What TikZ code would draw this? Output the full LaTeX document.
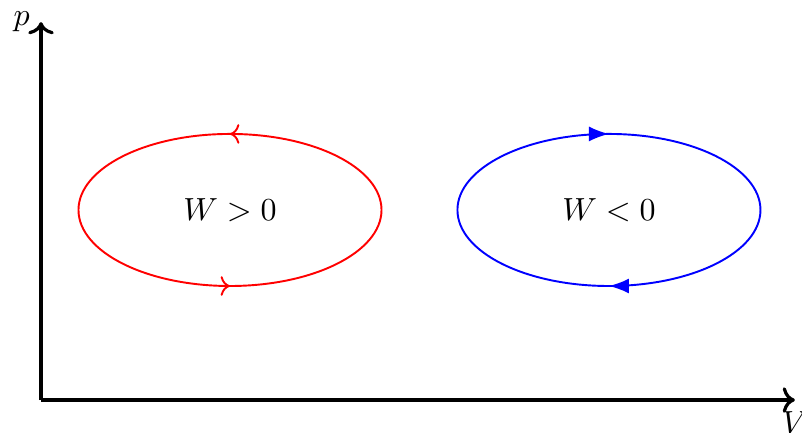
\documentclass[tikz,border=0pt]{standalone}
\usetikzlibrary{arrows.meta,decorations.markings}
\definecolor{cycRed}{RGB}{255,0,0}
\definecolor{cycBlue}{RGB}{0,0,255}
\tikzset{
  axisline/.style={->, line width=1pt},
  cycline/.style={semithick},
  fwdcycle/.style={
    cycline, draw=cycRed,
    postaction={decorate},
    decoration={markings,
      mark=at position 0.25 with {\arrow{>}},
      mark=at position 0.75 with {\arrow{>}}}},
  revcycle/.style={
    cycline, draw=cycBlue,
    postaction={decorate},
    decoration={markings,
      mark=at position 0.25 with {\arrow{Latex[length=2.2mm]}},
      mark=at position 0.75 with {\arrow{Latex[length=2.2mm]}}}}
}
\begin{document}
\begin{tikzpicture}
    \useasboundingbox (-0.450,-0.362) rectangle (8.358,4.393);

    % axes
    \coordinate (origin) at (0,0);
    \coordinate (vend) at (8.28,0);
    \coordinate (pend) at (0,4.15);
    \draw[axisline] (origin) -- (vend);
    \draw[axisline] (origin) -- (pend);
    \node[below] (vlabel) at (vend) {$V$};
    \node[left]  (plabel) at (pend) {$p$};

    % cycles
    \coordinate (redc)  at (2.076,2.087);
    \coordinate (bluec) at (6.238,2.087);
    \draw[fwdcycle] (redc) ++(1.664,0)
        arc[start angle=0, end angle=360, x radius=1.664cm, y radius=0.835cm];
    \draw[revcycle] (bluec) ++(1.664,0)
        arc[start angle=0, end angle=-360, x radius=1.664cm, y radius=0.835cm];
    \node (wpos) at (redc)  {$W>0$};
    \node (wneg) at (bluec) {$W<0$};
\end{tikzpicture}
\end{document}
